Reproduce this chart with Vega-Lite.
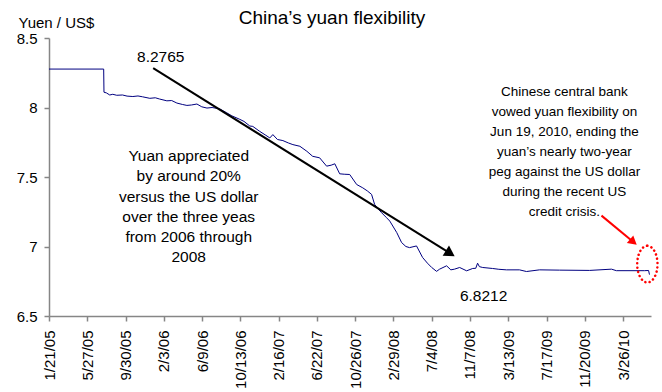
{
  "$schema": "https://vega.github.io/schema/vega-lite/v6.json",
  "autosize": "none",
  "width": 602,
  "height": 278,
  "padding": {"left": 49, "top": 38, "right": 11, "bottom": 76},
  "background": "white",
  "config": {"view": {"stroke": null}, "font": "Liberation Sans"},
  "title": {"text": "China’s yuan flexibility", "fontSize": 19, "fontWeight": "normal", "color": "black", "anchor": "middle", "baseline": "alphabetic", "dx": -18, "offset": 0, "dy": 28},
  "encoding": {
    "x": {
      "field": "date", "type": "temporal",
      "scale": {"type": "utc", "domain": [{"year": 2005, "month": 1, "date": 21, "utc": true}, {"year": 2010, "month": 6, "date": 26, "utc": true}]},
      "axis": {
        "title": null, "grid": false,
        "values": [
          {"year": 2005, "month": 1, "date": 21, "utc": true},
          {"year": 2005, "month": 5, "date": 27, "utc": true},
          {"year": 2005, "month": 9, "date": 30, "utc": true},
          {"year": 2006, "month": 2, "date": 3, "utc": true},
          {"year": 2006, "month": 6, "date": 9, "utc": true},
          {"year": 2006, "month": 10, "date": 13, "utc": true},
          {"year": 2007, "month": 2, "date": 16, "utc": true},
          {"year": 2007, "month": 6, "date": 22, "utc": true},
          {"year": 2007, "month": 10, "date": 26, "utc": true},
          {"year": 2008, "month": 2, "date": 29, "utc": true},
          {"year": 2008, "month": 7, "date": 4, "utc": true},
          {"year": 2008, "month": 11, "date": 7, "utc": true},
          {"year": 2009, "month": 3, "date": 13, "utc": true},
          {"year": 2009, "month": 7, "date": 17, "utc": true},
          {"year": 2009, "month": 11, "date": 20, "utc": true},
          {"year": 2010, "month": 3, "date": 26, "utc": true}
        ],
        "labelExpr": "utcFormat(datum.value, '%-m/%-d/%y')",
        "labelAngle": -90, "labelAlign": "right", "labelBaseline": "middle",
        "labelFontSize": 15, "labelColor": "black", "labelPadding": 9,
        "labelOverlap": false, "labelFlush": false,
        "domainColor": "#868686", "domainWidth": 1.5,
        "tickColor": "#868686", "tickWidth": 1.5, "tickSize": 5
      }
    },
    "y": {
      "field": "rate", "type": "quantitative",
      "scale": {"domain": [6.5, 8.5], "zero": false, "nice": false},
      "axis": {
        "values": [6.5, 7, 7.5, 8, 8.5], "format": ".1~f", "grid": false,
        "labelFontSize": 15, "labelColor": "black", "labelPadding": 7, "labelFlush": false,
        "domainColor": "#868686", "domainWidth": 1.5,
        "tickColor": "#868686", "tickWidth": 1.5, "tickSize": 5,
        "title": "Yuen / US$", "titleAngle": 0, "titleAlign": "left", "titleBaseline": "alphabetic",
        "titleX": -31, "titleY": -11, "titleFontSize": 15, "titleFontWeight": "normal", "titleColor": "black"
      }
    }
  },
  "layer": [
    {
      "data": {"values": [
        {"date": "2005-01-21", "rate": 8.2765},
        {"date": "2005-07-20", "rate": 8.2765},
        {"date": "2005-07-21", "rate": 8.11},
        {"date": "2005-07-29", "rate": 8.105},
        {"date": "2005-08-09", "rate": 8.09},
        {"date": "2005-08-19", "rate": 8.095},
        {"date": "2005-09-01", "rate": 8.088},
        {"date": "2005-09-20", "rate": 8.09},
        {"date": "2005-10-05", "rate": 8.082},
        {"date": "2005-10-24", "rate": 8.079},
        {"date": "2005-11-10", "rate": 8.083},
        {"date": "2005-11-25", "rate": 8.077},
        {"date": "2005-12-19", "rate": 8.066},
        {"date": "2006-01-06", "rate": 8.07},
        {"date": "2006-01-20", "rate": 8.061},
        {"date": "2006-02-13", "rate": 8.048},
        {"date": "2006-03-01", "rate": 8.05},
        {"date": "2006-03-18", "rate": 8.032},
        {"date": "2006-04-05", "rate": 8.022},
        {"date": "2006-04-20", "rate": 8.015},
        {"date": "2006-05-05", "rate": 8.018},
        {"date": "2006-05-23", "rate": 8.025},
        {"date": "2006-06-08", "rate": 8.005},
        {"date": "2006-06-25", "rate": 7.996},
        {"date": "2006-07-12", "rate": 8.0},
        {"date": "2006-08-06", "rate": 7.99},
        {"date": "2006-08-29", "rate": 7.962},
        {"date": "2006-09-15", "rate": 7.94},
        {"date": "2006-10-11", "rate": 7.915},
        {"date": "2006-10-25", "rate": 7.9},
        {"date": "2006-11-13", "rate": 7.867},
        {"date": "2006-11-23", "rate": 7.864},
        {"date": "2006-12-16", "rate": 7.828},
        {"date": "2007-01-05", "rate": 7.8},
        {"date": "2007-01-18", "rate": 7.781},
        {"date": "2007-01-28", "rate": 7.805},
        {"date": "2007-02-12", "rate": 7.77},
        {"date": "2007-03-02", "rate": 7.762},
        {"date": "2007-03-20", "rate": 7.745},
        {"date": "2007-04-04", "rate": 7.733},
        {"date": "2007-04-27", "rate": 7.721},
        {"date": "2007-05-20", "rate": 7.685},
        {"date": "2007-06-08", "rate": 7.649},
        {"date": "2007-07-01", "rate": 7.638},
        {"date": "2007-07-24", "rate": 7.578},
        {"date": "2007-08-08", "rate": 7.585},
        {"date": "2007-08-20", "rate": 7.595},
        {"date": "2007-09-05", "rate": 7.523},
        {"date": "2007-09-20", "rate": 7.52},
        {"date": "2007-10-08", "rate": 7.518},
        {"date": "2007-10-31", "rate": 7.446},
        {"date": "2007-11-20", "rate": 7.422},
        {"date": "2007-12-05", "rate": 7.4},
        {"date": "2007-12-19", "rate": 7.375},
        {"date": "2007-12-29", "rate": 7.303},
        {"date": "2008-01-10", "rate": 7.27},
        {"date": "2008-01-21", "rate": 7.243},
        {"date": "2008-02-05", "rate": 7.21},
        {"date": "2008-02-17", "rate": 7.183},
        {"date": "2008-03-11", "rate": 7.1},
        {"date": "2008-03-27", "rate": 7.028},
        {"date": "2008-04-10", "rate": 7.0},
        {"date": "2008-04-22", "rate": 6.992},
        {"date": "2008-05-15", "rate": 7.004},
        {"date": "2008-06-04", "rate": 6.921},
        {"date": "2008-06-20", "rate": 6.88},
        {"date": "2008-07-04", "rate": 6.849},
        {"date": "2008-07-20", "rate": 6.8212},
        {"date": "2008-07-30", "rate": 6.837},
        {"date": "2008-08-22", "rate": 6.861},
        {"date": "2008-09-05", "rate": 6.832},
        {"date": "2008-09-17", "rate": 6.837},
        {"date": "2008-10-04", "rate": 6.849},
        {"date": "2008-10-27", "rate": 6.825},
        {"date": "2008-11-16", "rate": 6.842},
        {"date": "2008-11-26", "rate": 6.843},
        {"date": "2008-12-02", "rate": 6.88},
        {"date": "2008-12-08", "rate": 6.855},
        {"date": "2008-12-19", "rate": 6.849},
        {"date": "2009-01-20", "rate": 6.842},
        {"date": "2009-02-10", "rate": 6.836},
        {"date": "2009-03-07", "rate": 6.832},
        {"date": "2009-04-19", "rate": 6.832},
        {"date": "2009-05-12", "rate": 6.82},
        {"date": "2009-06-24", "rate": 6.832},
        {"date": "2009-08-29", "rate": 6.83},
        {"date": "2009-12-06", "rate": 6.828},
        {"date": "2010-02-16", "rate": 6.837},
        {"date": "2010-03-04", "rate": 6.826},
        {"date": "2010-06-04", "rate": 6.826},
        {"date": "2010-06-18", "rate": 6.8275},
        {"date": "2010-06-21", "rate": 6.7976}
      ]},
      "mark": {"type": "line", "color": "#000080", "strokeWidth": 1}
    },
    {
      "data": {"values": [{"date": "2005-12-30", "rate": 8.283, "date2": "2008-09-03", "rate2": 6.95}]},
      "mark": {"type": "rule", "color": "black", "strokeWidth": 2},
      "encoding": {"x2": {"field": "date2"}, "y2": {"field": "rate2"}}
    },
    {
      "data": {"values": [{"date": "2008-09-03", "rate": 6.95}]},
      "mark": {"type": "point", "shape": "triangle-up", "filled": true, "color": "black", "opacity": 1, "size": 144, "angle": 122}
    },
    {
      "data": {"values": [{"date": "2010-01-14", "rate": 7.222, "date2": "2010-04-29", "rate2": 7.032}]},
      "mark": {"type": "rule", "color": "#ff0000", "strokeWidth": 2},
      "encoding": {"x2": {"field": "date2"}, "y2": {"field": "rate2"}}
    },
    {
      "data": {"values": [{"date": "2010-04-29", "rate": 7.032}]},
      "mark": {"type": "point", "shape": "triangle-up", "filled": true, "color": "#ff0000", "opacity": 1, "size": 100, "angle": 130}
    },
    {
      "data": {"values": [{"date": "2010-06-14", "rate": 6.873}]},
      "mark": {
        "type": "point", "filled": false, "color": "#ff0000", "opacity": 1, "size": 1340,
        "shape": "M 0 -1 C 0.3065 -1 0.555 -0.5523 0.555 0 C 0.555 0.5523 0.3065 1 0 1 C -0.3065 1 -0.555 0.5523 -0.555 0 C -0.555 -0.5523 -0.3065 -1 0 -1 Z",
        "strokeWidth": 2.5, "strokeDash": [0.1, 4.2], "strokeCap": "round"
      }
    },
    {
      "data": {"values": [
        {"date": "2006-01-24", "rate": 8.33, "label": "8.2765"},
        {"date": "2008-12-22", "rate": 6.61, "label": "6.8212"},
        {"date": "2006-04-26", "rate": 7.613, "label": "Yuan appreciated\nby around 20%\nversus the US dollar\nover the three yeas\nfrom 2006 through\n2008"}
      ]},
      "mark": {"type": "text", "align": "center", "baseline": "alphabetic", "fontSize": 15.5, "lineHeight": 20.2, "lineBreak": "\n", "color": "black"},
      "encoding": {"text": {"field": "label"}}
    },
    {
      "data": {"values": [
        {"date": "2009-09-14", "rate": 8.084, "label": "Chinese central bank\nvowed yuan flexibility on\nJun 19, 2010, ending the\nyuan’s nearly two-year\npeg against the US dollar\nduring the recent US\ncredit crisis."}
      ]},
      "mark": {"type": "text", "align": "center", "baseline": "alphabetic", "fontSize": 13.5, "lineHeight": 20.1, "lineBreak": "\n", "color": "black"},
      "encoding": {"text": {"field": "label"}}
    }
  ]
}
